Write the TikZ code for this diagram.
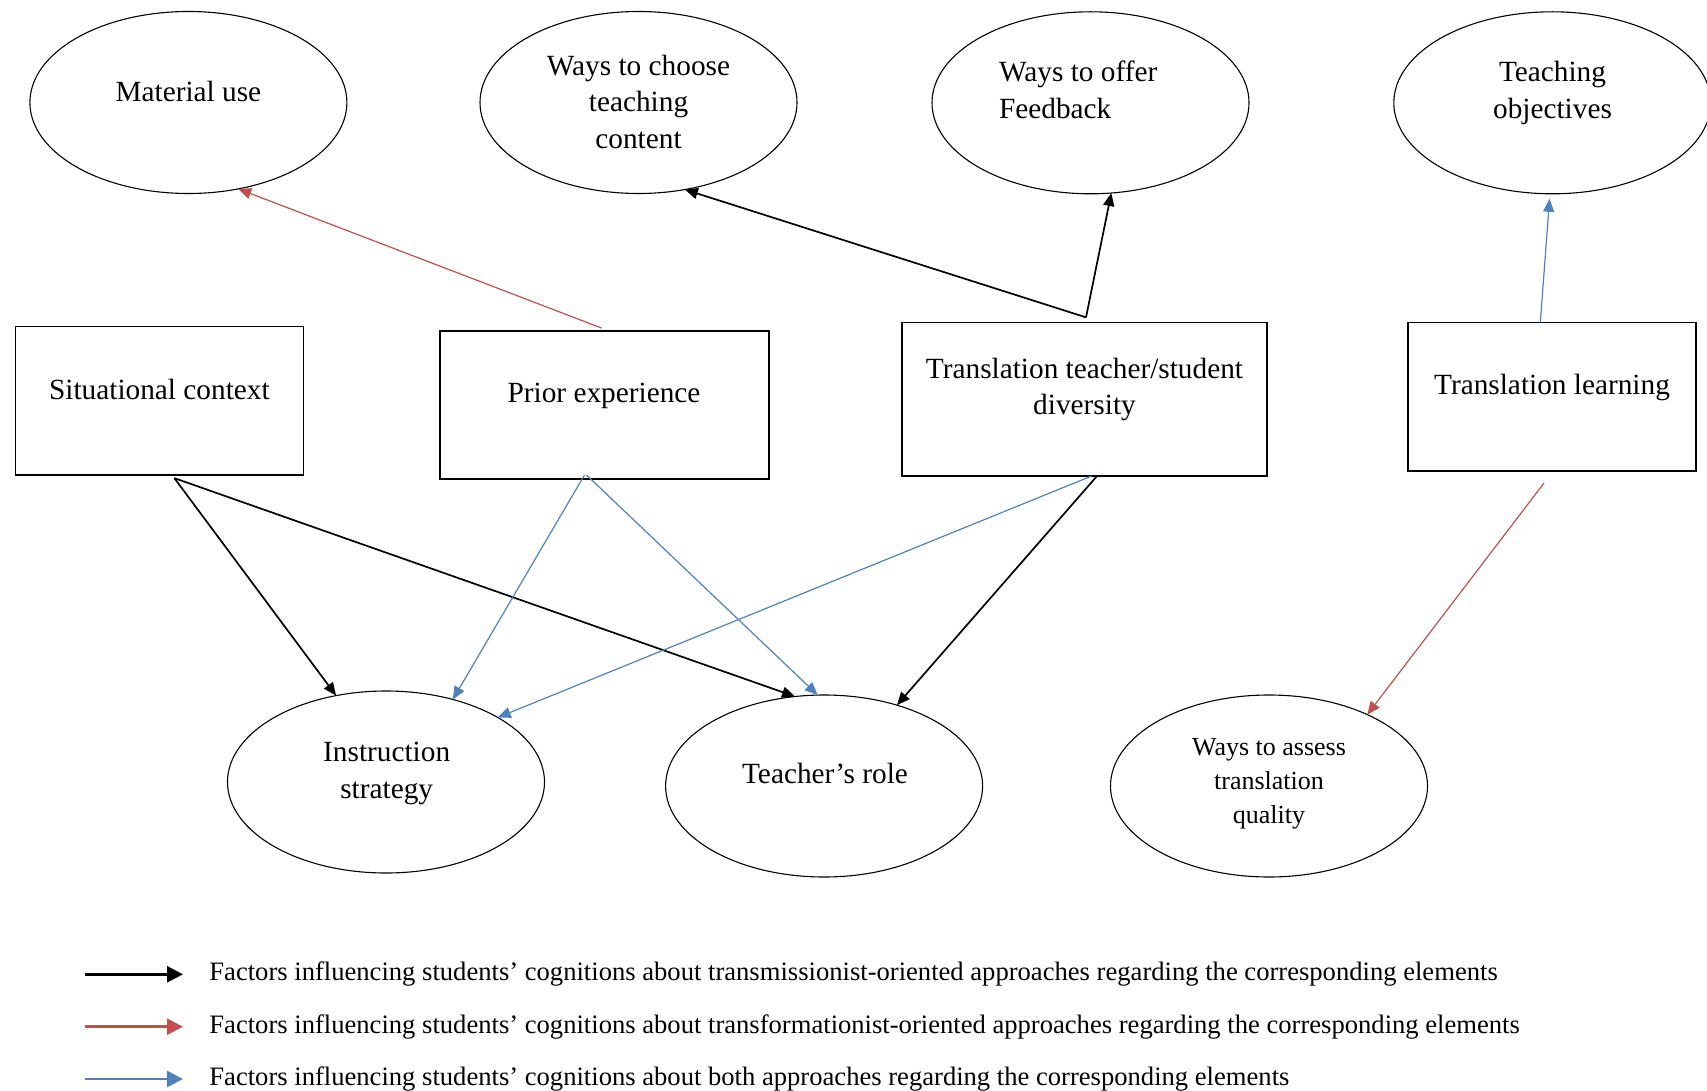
\documentclass[tikz,border=0pt]{standalone}
\usepackage{fontspec}
\setmainfont{Liberation Serif}
\usetikzlibrary{arrows.meta,shapes.geometric}
\definecolor{cred}{HTML}{C0504D}
\definecolor{cblue}{HTML}{4F81BD}
\begin{document}
\begin{tikzpicture}[x=0.5pt,y=-0.5pt,
  ell/.style={draw,ellipse,line width=0.55pt,minimum width=158.5pt,minimum height=91pt,inner sep=0pt,outer sep=0pt},
  box/.style={draw,rectangle,line width=0.7pt,inner sep=0pt,outer sep=0pt},
  lbl/.style={inner sep=0pt,align=center,font=\fontsize{14.65}{18.35}\selectfont},
  slbl/.style={inner sep=0pt,align=center,font=\fontsize{13}{16.85}\selectfont},
  leg/.style={inner sep=0pt,anchor=west,font=\fontsize{13.3}{16}\selectfont},
  blk/.style={draw=black,line width=0.85pt,-{Triangle[length=6.5pt,width=5.5pt]}},
  rd/.style={draw=cred,line width=0.6pt,-{Triangle[length=6.5pt,width=5.5pt]}},
  bl/.style={draw=cblue,line width=0.6pt,-{Triangle[length=6.5pt,width=5.5pt]}},
  legarr/.style={line width=1.3pt,-{Triangle[length=8pt,width=8pt]}}
]
\useasboundingbox (0,0) rectangle (1707,1091);

% top ellipses
\node[ell] (matuse) at (188.4,102.5) {};
\node[ell] (choose) at (638.5,102.5) {};
\node[ell] (feedback) at (1090.5,102.8) {};
\node[ell] (obj) at (1552.3,102.8) {};
\node[lbl] (t-matuse) at (188.4,91.7) {Material use};
\node[lbl] (t-choose) at (638.5,101.7) {Ways to choose\\teaching\\content};
\node[lbl,align=left,anchor=west] (t-feedback) at (998.7,90) {Ways to offer\\Feedback};
\node[lbl] (t-obj) at (1552.5,93.2) {Teaching\\objectives};

% boxes
\node[box,minimum width=144pt,minimum height=74.15pt] (situ) at (159.4,400.8) {};
\node[box,minimum width=164.5pt,minimum height=74pt] (prior) at (604.5,405) {};
\node[box,minimum width=182.5pt,minimum height=76.85pt] (ttsd) at (1084.5,399.2) {};
\node[box,minimum width=144pt,minimum height=74.35pt] (learn) at (1552,396.7) {};
\node[lbl] (t-situ) at (159.4,389) {Situational context};
\node[lbl] (t-prior) at (604,395.5) {Prior experience};
\node[lbl] (t-ttsd) at (1084.5,389.5) {Translation teacher/student\\diversity};
\node[lbl] (t-learn) at (1552,387.5) {Translation learning};

% bottom ellipses
\node[ell] (instr) at (386,782) {};
\node[ell] (role) at (824.1,786) {};
\node[ell] (assess) at (1269,786) {};
\node[lbl] (t-instr) at (386.7,773.2) {Instruction\\strategy};
\node[lbl] (t-role) at (825,773.3) {Teacher’s role};
\node[slbl] (t-assess) at (1269,783.6) {Ways to assess\\translation\\quality};

% connectors
\draw[rd] ([xshift=-1.5pt,yshift=1.5pt]prior.north) -- (matuse.-60);
\draw[blk] ([xshift=0.75pt,yshift=2.5pt]ttsd.north) -- (choose.-62);
\draw[blk] ([xshift=0.75pt,yshift=2.5pt]ttsd.north) -- (feedback.-77);
\draw[bl] ([xshift=-5.85pt]learn.north) -- ([xshift=-1.35pt,yshift=-2.5pt]obj.south);
\draw[blk] ([xshift=7.5pt,yshift=-1.6pt]situ.south) -- (instr.120);
\draw[blk] ([xshift=7.5pt,yshift=-1.6pt]situ.south) -- (role.108);
\draw[bl] ([xshift=-10pt,yshift=2pt]prior.south) -- (instr.51);
\draw[bl] ([xshift=-9pt,yshift=2pt]prior.south) -- (role.94);
\draw[bl] ([xshift=3.5pt]ttsd.south) -- (instr.30);
\draw[blk] ([xshift=6.25pt]ttsd.south) -- (role.48);
\draw[rd] ([xshift=-4pt,yshift=-6pt]learn.south) -- (assess.36);

% legend
\coordinate (l1a) at (85,974.3); \coordinate (l1b) at (183,974.3);
\coordinate (l2a) at (85,1026.7); \coordinate (l2b) at (183,1026.7);
\coordinate (l3a) at (85,1079); \coordinate (l3b) at (183,1079);
\draw[legarr,black] (l1a) -- (l1b);
\draw[legarr,cred] (l2a) -- (l2b);
\draw[legarr,cblue] (l3a) -- (l3b);
\node[leg] (g1) at (209,974.3) {Factors influencing students’ cognitions about transmissionist-oriented approaches regarding the corresponding elements};
\node[leg] (g2) at (209,1026.7) {Factors influencing students’ cognitions about transformationist-oriented approaches regarding the corresponding elements};
\node[leg] (g3) at (209,1079) {Factors influencing students’ cognitions about both approaches regarding the corresponding elements};
\end{tikzpicture}
\end{document}
